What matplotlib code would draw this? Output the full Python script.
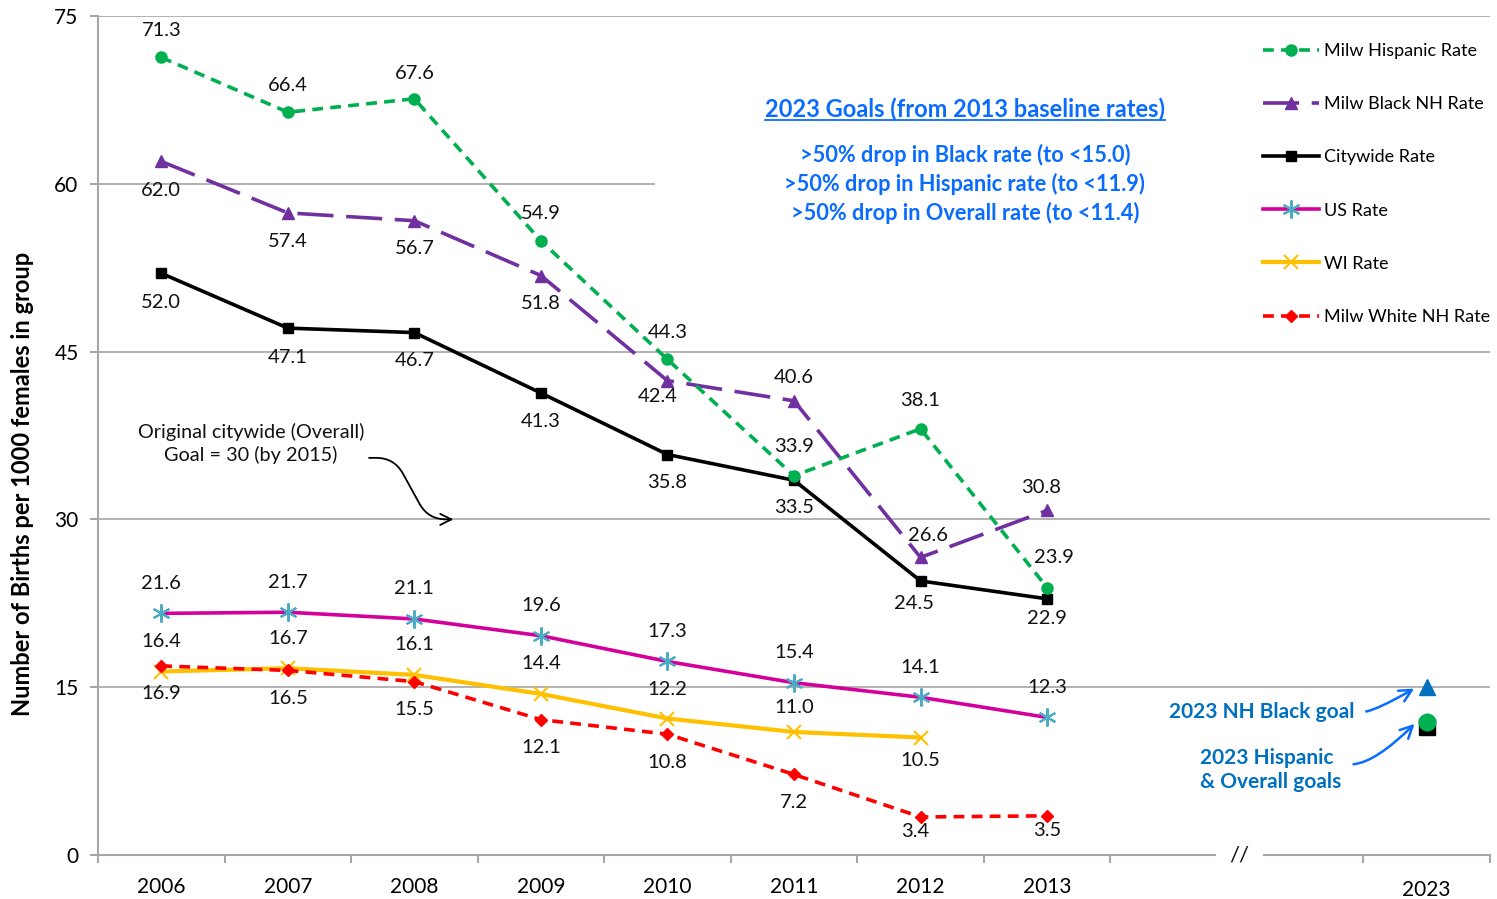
import matplotlib
matplotlib.use("Agg")
import matplotlib.pyplot as plt
from matplotlib.lines import Line2D
from matplotlib.patches import Rectangle
from matplotlib.transforms import ScaledTranslation

plt.rcParams["font.family"] = ["Lato", "DejaVu Sans"]

years = ["2006", "2007", "2008", "2009", "2010", "2011", "2012", "2013"]
hispanic = [71.3, 66.4, 67.6, 54.9, 44.3, 33.9, 38.1, 23.9]
black_nh = [62.0, 57.4, 56.7, 51.8, 42.4, 40.6, 26.6, 30.8]
citywide = [52.0, 47.1, 46.7, 41.3, 35.8, 33.5, 24.5, 22.9]
us_rate = [21.6, 21.7, 21.1, 19.6, 17.3, 15.4, 14.1, 12.3]
wi_rate = [16.4, 16.7, 16.1, 14.4, 12.2, 11.0, 10.5]
white_nh = [16.9, 16.5, 15.5, 12.1, 10.8, 7.2, 3.4, 3.5]

goal_year = "2023"
goal_black = 15.0
goal_hispanic = 11.9
goal_overall = 11.4

# label offsets in pixels (dx, dy), dy positive = up
off_hisp = [(0, 27), (0, 27), (0, 25), (0, 27), (0, 27), (0, 29), (0, 28), (7, 30)]
off_black = [(0, -29), (0, -29), (0, -28), (0, -28), (-10, -16), (0, 23), (7, 22), (-6, 23)]
off_city = [(0, -29), (0, -29), (0, -28), (0, -29), (0, -28), (0, -27), (-7, -23), (0, -20)]
off_us = [(0, 30)] * 8
off_wi = [(0, 30), (0, 30), (0, 30), (0, 30), (0, 29), (0, 24), (0, -23)]
off_white = [(0, -28), (0, -28), (0, -28), (0, -28), (0, -28), (0, -28), (-5, -15), (0, -15)]

BLUE = "#0A6CFF"
GOAL_BLUE = "#0070C0"
GRID = "#A6A6A6"

fig = plt.figure(figsize=(14.97, 8.99), dpi=100)
ax = fig.add_axes([98 / 1497, 1 - 855 / 899, (1490 - 98) / 1497, (855 - 16) / 899])

x = list(range(len(years)))
x_goal = 10

ax.set_xlim(-0.5, 10.5)
ax.set_ylim(0, 75)
ax.set_yticks([0, 15, 30, 45, 60, 75])
ax.yaxis.grid(True, color=GRID, lw=1.2, zorder=0)
ax.set_axisbelow(True)
for s in ["top", "right"]:
    ax.spines[s].set_visible(False)
for s in ["left", "bottom"]:
    ax.spines[s].set_color(GRID)
    ax.spines[s].set_linewidth(1.5)

ax.set_xticks(x + [x_goal])
ax.set_xticklabels(years + [goal_year])
ax.set_xticks([i - 0.5 for i in range(12)], minor=True)
ax.tick_params(axis="x", which="major", length=0, pad=16, labelsize=15)
ax.tick_params(axis="x", which="minor", length=6, color=GRID, width=1.5, direction="out")
ax.tick_params(axis="y", length=6, color=GRID, width=1.5, pad=8, labelsize=15)
ax.set_ylabel("Number of Births per 1000 females in group", fontsize=17, fontweight="bold")
ax.yaxis.set_label_coords(-0.046, 0.442)
lab23 = ax.get_xticklabels()[-1]
lab23.set_transform(lab23.get_transform() + ScaledTranslation(0, -0.03, fig.dpi_scale_trans))

# white box behind goals text covers the 60 gridline
ax.add_patch(Rectangle((3.9, 55), 6.6, 13.6, facecolor="white", edgecolor="none", zorder=0.8))

h1, = ax.plot(x, hispanic, color="#00B050", lw=2.6, dashes=(3, 2), marker="o", ms=8,
              label="Milw Hispanic Rate", zorder=5)
h2, = ax.plot(x, black_nh, color="#7030A0", lw=2.6, dashes=(10, 3.5), marker="^", ms=8,
              label="Milw Black NH Rate", zorder=4)
h3, = ax.plot(x, citywide, color="black", lw=2.6, marker="s", ms=7.5,
              label="Citywide Rate", zorder=4)
h4, = ax.plot(x, us_rate, color="#D4009B", lw=2.6, marker=(6, 2, 0), ms=13, mew=1.5,
              mec="#4BACC6", label="US Rate", zorder=4)
h5, = ax.plot(x[:len(wi_rate)], wi_rate, color="#FFC000", lw=3, marker="x", ms=10, mew=1.5,
              label="WI Rate", zorder=3)
h6, = ax.plot(x, white_nh, color="#FF0000", lw=2.6, dashes=(3, 2), marker="D", ms=6,
              label="Milw White NH Rate", zorder=4)

ax.plot([x_goal], [goal_overall], marker="s", color="black", ms=11, ls="none", zorder=5)
ax.plot([x_goal], [goal_hispanic], marker="o", color="#00B050", ms=12, ls="none", zorder=6)
ax.plot([x_goal], [goal_black], marker="^", color=GOAL_BLUE, ms=11, ls="none", zorder=6)

px2pt = 72 / 100


def labels(vals, offs):
    for i, (v, (dx, dy)) in enumerate(zip(vals, offs)):
        ax.annotate(f"{v:.1f}", (i, v), xytext=(dx * px2pt, dy * px2pt),
                    textcoords="offset points", ha="center", va="center",
                    fontsize=14.5, color="#111111", zorder=7)


labels(hispanic, off_hisp)
labels(black_nh, off_black)
labels(citywide, off_city)
labels(us_rate, off_us)
labels(wi_rate, off_wi)
labels(white_nh, off_white)

leg = fig.legend(handles=[h1, h2, h3, h4, h5, h6], loc="upper left",
                 bbox_to_anchor=(1254 / 1497, 1 - 34 / 899), fontsize=13,
                 frameon=True, handlelength=3.1, handletextpad=0.3,
                 labelspacing=2.06, borderaxespad=0, borderpad=0.5)
leg.get_frame().set_facecolor("white")
leg.get_frame().set_edgecolor("none")
leg.get_frame().set_alpha(1)

# goals text
title = ax.text(6.35, 66.7, "2023 Goals (from 2013 baseline rates)", ha="center", va="center",
                fontsize=17, fontweight="bold", color=BLUE, zorder=8)
goal_lines = [">50% drop in Black rate (to <15.0)",
              ">50% drop in Hispanic rate (to <11.9)",
              ">50% drop in Overall rate (to <11.4)"]
for k, line in enumerate(goal_lines):
    ax.text(6.35, 62.57 - k * 2.59, line, ha="center", va="center",
            fontsize=15.7, fontweight="bold", color=BLUE, zorder=8)

ax.text(0.71, 36.8, "Original citywide (Overall)\nGoal = 30 (by 2015)", ha="center", va="center",
        fontsize=14.3, linespacing=1.3, color="#111111")
ax.annotate("", xy=(2.33, 30.0), xytext=(1.62, 35.5),
            arrowprops=dict(arrowstyle="->", color="black", lw=1.3, mutation_scale=20,
                            connectionstyle="arc,angleA=0,armA=28,angleB=180,armB=28,rad=18"))

ax.text(8.70, 12.78, "2023 NH Black goal", ha="center", va="center", fontsize=15,
        fontweight="bold", color=GOAL_BLUE)
ax.text(8.21, 7.64, "2023 Hispanic\n& Overall goals", ha="left", va="center", fontsize=15,
        fontweight="bold", color=GOAL_BLUE, linespacing=1.25)
ax.annotate("", xy=(9.92, 15.0), xytext=(9.5, 12.8),
            arrowprops=dict(arrowstyle="->", color=BLUE, lw=1.8, mutation_scale=22,
                            connectionstyle="angle3,angleA=0,angleB=30"))
ax.annotate("", xy=(9.92, 11.9), xytext=(9.4, 8.1),
            arrowprops=dict(arrowstyle="->", color=BLUE, lw=1.8, mutation_scale=22,
                            connectionstyle="angle3,angleA=0,angleB=45"))

# axis break
ax.text(8.52, 0, "//", ha="center", va="center", fontsize=16, color="#111111", clip_on=False,
        zorder=10, bbox=dict(facecolor="white", edgecolor="none", pad=10))

# underline the goals title
fig.canvas.draw()
bb = title.get_window_extent().transformed(fig.transFigure.inverted())
fig.add_artist(Line2D([bb.x0, bb.x1], [bb.y0 + 0.001, bb.y0 + 0.001], color=BLUE, lw=1.3,
                      transform=fig.transFigure))

fig.savefig("out.png", dpi=100)
